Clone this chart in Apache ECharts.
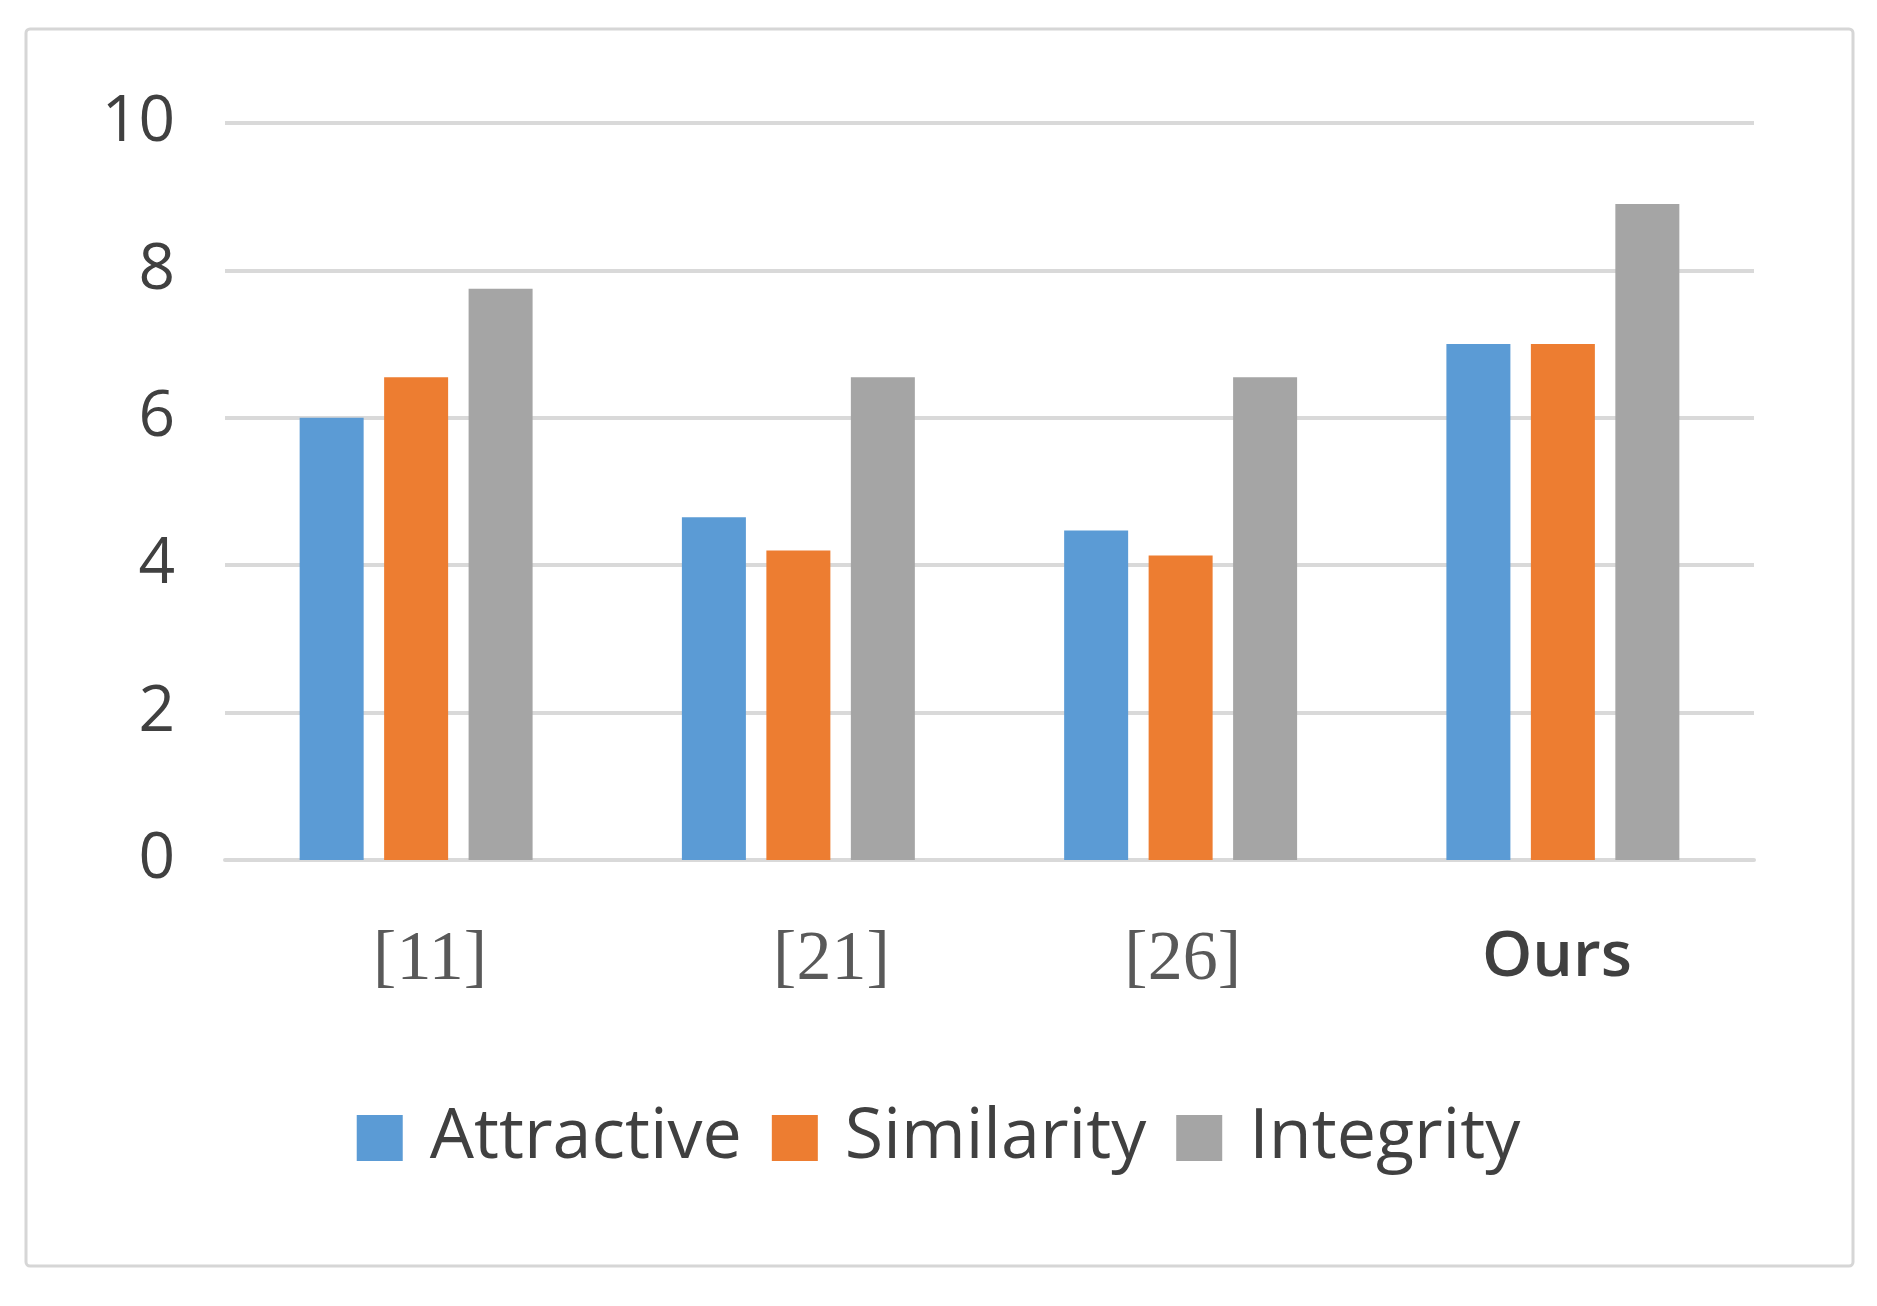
<!DOCTYPE html>
<html>
<head>
<meta charset="utf-8">
<script src="https://cdn.jsdelivr.net/npm/echarts@6/dist/echarts.min.js"></script>
<style>
html,body{margin:0;padding:0;background:#fff;}
#chart{width:1877px;height:1306px;}
</style>
</head>
<body>
<div id="chart"></div>
<script>
const categories = ['[11]', '[21]', '[26]', 'Ours'];
const attractive = [6.0, 4.65, 4.47, 7.0];
const similarity = [6.55, 4.2, 4.13, 7.0];
const integrity = [7.75, 6.55, 6.55, 8.9];
const seriesNames = ['Attractive', 'Similarity', 'Integrity'];
const yTicks = { min: 0, max: 10, interval: 2 };

const chart = echarts.init(document.getElementById('chart'), null, { renderer: 'canvas' });

const serifLabel = { fontFamily: 'Liberation Serif', fontSize: 70, color: '#595959' };
const sansLabel = { fontFamily: 'Open Sans', fontSize: 64, color: '#404040', fontWeight: 600 };
const labelPads = { '[11]': [0, 0, 0, 28], '[21]': [0, 0, 0, 66], '[26]': [0, 0, 0, 4], 'Ours': [0, 12, 0, 0] };

const option = {
  backgroundColor: '#ffffff',
  animation: false,
  graphic: [{
    type: 'rect',
    shape: { x: 26, y: 29, width: 1827, height: 1237, r: 4 },
    style: { fill: 'none', stroke: '#d6d6d6', lineWidth: 3 },
    silent: true,
    z: -10
  }],
  grid: { left: 225, right: 123, top: 123, bottom: 446, containLabel: false },
  legend: {
    data: seriesNames,
    left: 'center',
    top: 1098,
    itemWidth: 46,
    itemHeight: 46,
    itemGap: 30,
    icon: 'rect',
    textStyle: { fontFamily: 'Open Sans', fontSize: 70, color: '#404040', padding: [0, 0, 0, 22] }
  },
  xAxis: {
    type: 'category',
    data: categories.map(c => ({ value: c, textStyle: Object.assign({}, c === 'Ours' ? sansLabel : serifLabel, { padding: labelPads[c] }) })),
    axisLine: { show: true, lineStyle: { color: '#d9d9d9', width: 4 } },
    axisTick: { show: false },
    axisLabel: { margin: 66 }
  },
  yAxis: {
    type: 'value',
    min: yTicks.min,
    max: yTicks.max,
    interval: yTicks.interval,
    axisLine: { show: false },
    axisTick: { show: false },
    axisLabel: { fontFamily: 'Open Sans', fontSize: 64, color: '#404040', margin: 50 },
    splitLine: { lineStyle: { color: '#d9d9d9', width: 4 } }
  },
  series: [
    { name: seriesNames[0], type: 'bar', data: attractive, barWidth: 64, barGap: '32%', itemStyle: { color: '#5b9bd5' } },
    { name: seriesNames[1], type: 'bar', data: similarity, barWidth: 64, barGap: '32%', itemStyle: { color: '#ed7d31' } },
    { name: seriesNames[2], type: 'bar', data: integrity, barWidth: 64, barGap: '32%', itemStyle: { color: '#a5a5a5' } }
  ]
};
chart.setOption(option);
</script>
</body>
</html>
